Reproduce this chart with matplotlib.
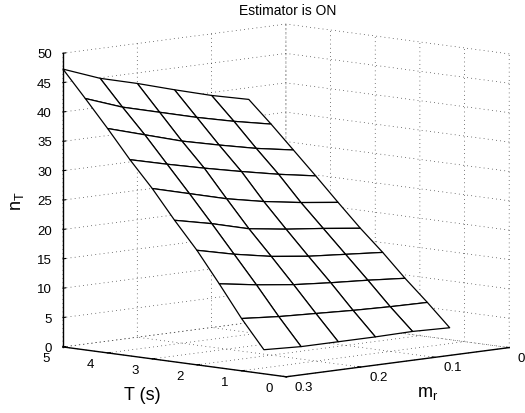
import numpy as np
import matplotlib
matplotlib.use("Agg")
import matplotlib.pyplot as plt
from matplotlib.ticker import NullFormatter

plt.rcParams['font.family'] = ['Liberation Sans', 'DejaVu Sans']

T_vals = [0.5, 1, 1.5, 2, 2.5, 3, 3.5, 4, 4.5, 5]
m_vals = [0.3, 0.25, 0.2, 0.15, 0.1, 0.05]

# one row per T, columns follow m_vals
n_T = [
    [4.1, 3.8, 3.8, 3.8, 3.9, 3.7],
    [8.9, 8.4, 8.1, 7.8, 7.6, 7.5],
    [14.3, 13.3, 12.5, 12.0, 11.6, 11.1],
    [19.5, 18.0, 16.8, 16.0, 15.5, 15.0],
    [24.1, 22.7, 21.0, 20.1, 19.4, 18.6],
    [29.0, 27.3, 25.6, 24.3, 23.3, 22.5],
    [33.4, 31.8, 30.3, 28.9, 27.6, 26.5],
    [38.2, 36.3, 34.4, 32.9, 31.5, 30.4],
    [42.8, 40.5, 38.8, 37.1, 35.6, 34.3],
    [47.3, 44.9, 43.2, 41.3, 39.5, 38.0],
]

T_ticks = [0, 1, 2, 3, 4, 5]
m_ticks = [0, 0.1, 0.2, 0.3]
m_tick_labels = ['0', '0.1', '0.2', '0.3']
n_ticks = [0, 5, 10, 15, 20, 25, 30, 35, 40, 45, 50]

W, H = 525, 413
S = 413
fig = plt.figure(figsize=(W / 100, H / 100), dpi=100)
ax = fig.add_axes([74 / W, 0.5 / H, S / W, S / H], projection='3d', proj_type='ortho')
ax.set_box_aspect((314.5, 310.8, 293.6), zoom=520 / S)
ax.view_init(elev=7.6, azim=135.3)

m_grid, T_grid = np.meshgrid(m_vals, T_vals)
surf = ax.plot_surface(T_grid, m_grid, np.array(n_T), color='white', edgecolor='black',
                       linewidth=0.9, shade=False, rstride=1, cstride=1, antialiased=True)
surf.set_clip_on(False)

ax.set_xlim(0, 5, view_margin=0)
ax.set_ylim(0, 0.3, view_margin=0)
ax.set_zlim(0, 50, view_margin=0)
ax.set_xticks(T_ticks)
ax.set_yticks(m_ticks)
ax.set_zticks(n_ticks)
ax.zaxis.set_ticks_position('upper')

for axis in (ax.xaxis, ax.yaxis, ax.zaxis):
    axis.set_major_formatter(NullFormatter())
    axis.set_tick_params(label1On=False, label2On=False)
    axis.set_pane_color((1, 1, 1, 0))
    axis.pane.set_edgecolor((1, 1, 1, 0))
    axis.line.set_color('black')
    axis.line.set_linewidth(1.0)
    axis._axinfo['grid'].update(color='black', linewidth=0.5, linestyle=(0, (1, 5)))
    axis._axinfo['tick'].update(inward_factor=0.0, outward_factor=0.15)

for t in T_ticks:
    ax.text(t, 0.323, -1.7, str(t), fontsize=9.5, ha='center', va='center')
for m, lab in zip(m_ticks, m_tick_labels):
    ax.text(-0.19, m, -1.7, lab, fontsize=9.5, ha='left', va='center')
for n in n_ticks:
    ax.text(5, 0.315, n - 0.1, str(n), fontsize=9.5, ha='right', va='center')

fig.text(288 / W, 1 - 11 / H, 'Estimator is ON', fontsize=10, ha='center', va='center')
fig.text(142 / W, 1 - 396 / H, 'T (s)', fontsize=13, ha='center', va='center')
fig.text(428 / W, 1 - 393 / H, 'm$_\\mathregular{r}$', fontsize=13, ha='center', va='center')
fig.text(17.5 / W, 1 - 201 / H, 'n$_\\mathregular{T}$', fontsize=13, rotation=90, ha='center', va='center')

fig.savefig('out.png', dpi=100)
